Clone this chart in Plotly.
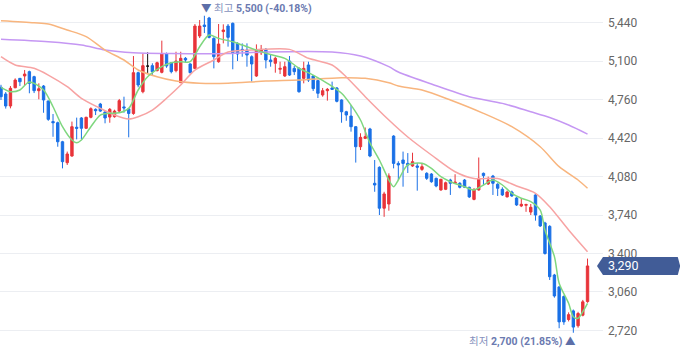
import plotly.graph_objects as go

# ---- daily candles (index = trading day in view) ----
opens = [4868,4809,4703,4864,4947,4968,5006,4962,4838,4879,4747,4565,4555,4387,4202,4261,4515,4597,4506,4603,
         4673,4720,4650,4605,4608,4658,4695,4677,4637,4997,4829,5055,5059,5015,5000,5162,5085,5015,4909,5124,
         5074,5035,5321,5418,5480,5300,5094,5360,5409,5433,5256,5203,5197,5138,4968,5173,5203,5109,5080,5027,
         4968,5100,5035,5035,4947,5065,4968,4927,4800,4838,4862,4862,4756,4652,4614,4520,4343,4417,4500,4020,
         4161,3800,3837,4437,4196,4226,4196,4173,4173,4143,4108,4102,4064,3961,3967,4049,4020,4020,4049,3985,
         3878,3961,4108,4014,4084,4012,3967,3900,3943,3890,3820,3826,3766,3917,3731,3670,3640,3210,3105,3020,
         2817,2893,2762,2855,2975]
highs = [4890,4826,4879,4947,4950,5021,5015,4970,4903,4888,4750,4632,4565,4395,4300,4565,4600,4605,4608,4691,
         4682,4730,4661,4685,4670,4765,4785,4685,5144,5006,5168,5177,5080,5094,5280,5175,5090,5182,5182,5135,
         5080,5427,5462,5500,5490,5310,5427,5424,5427,5440,5265,5256,5256,5150,5247,5242,5215,5153,5138,5094,
         5094,5144,5056,5045,5094,5094,4975,4935,4862,4862,4918,4870,4762,4660,4712,4525,4462,4513,4510,4226,
         4170,3945,4108,4445,4215,4300,4287,4290,4200,4197,4118,4110,4070,4060,4035,4060,4100,4030,4058,3990,
         3978,4248,4115,4079,4094,4020,3985,3955,3955,3898,3890,3840,3837,3925,3740,3680,3650,3220,3110,3030,
         2880,2905,2885,2990,3355]
lows = [4756,4680,4682,4860,4879,4888,4815,4817,4762,4643,4572,4431,4343,4152,4182,4255,4408,4410,4500,4594,
        4623,4650,4550,4555,4600,4650,4643,4426,4625,4868,4815,4991,4976,5009,4991,5040,4991,5000,4905,5091,
        4991,5030,5303,5347,5300,5035,5085,5256,5227,5027,5100,5138,5050,4918,4960,5153,5035,5050,4997,4985,
        4960,4968,4976,4820,4903,4915,4835,4773,4785,4750,4845,4735,4555,4572,4476,4203,4314,4410,4250,3945,
        3740,3724,3778,4152,4049,3990,4111,4165,3955,4130,4050,4025,3985,3955,3960,3917,4015,3975,3978,3890,
        3870,3955,4005,4005,3917,3908,3908,3895,3900,3820,3810,3768,3740,3690,3635,3390,3166,3010,2740,2770,
        2800,2700,2745,2845,2965]
closes = [4785,4703,4859,4932,4917,4985,4903,4838,4855,4756,4585,4555,4387,4211,4279,4520,4506,4506,4603,4679,
          4661,4658,4597,4673,4658,4750,4686,4637,4997,4888,5059,5055,5006,5085,5162,5056,5006,5100,5124,5109,
          4997,5409,5409,5405,5309,5138,5250,5374,5309,5173,5162,5191,5153,5074,5197,5203,5109,5094,5124,5035,
          5050,4976,5006,4829,5035,4932,4856,4815,4838,4850,4850,4744,4652,4623,4520,4343,4426,4432,4261,4005,
          3800,3926,4084,4196,4182,4196,4182,4211,4162,4167,4064,4034,3996,4055,4025,4020,4030,3985,3985,3900,
          3961,4064,4088,4049,4020,3976,3917,3943,3908,3829,3835,3832,3808,3740,3643,3400,3195,3025,2796,2796,
          2860,2750,2870,2973,3290]

# ---- moving-average lines (day index, price) ----
ma5_idx = [0,2,4,6,9,11,13,15,16,17,19,21,23,25,27,29,31,34,36,38,40,42,44,46,49,51,56,60,63,66,69,72,74,76,78,80,
           82,83,84,86,89,91,93,95,98,100,102,104,106,108,110,112,114,115,117,118,120,121,122,123,124]
ma5_val = [4868,4829,4844,4915,4844,4696,4520,4402,4378,4402,4520,4623,4638,4643,4682,4844,4961,5050,5085,5094,5094,
           5226,5330,5300,5270,5241,5168,5124,5036,4976,4903,4815,4711,4579,4376,4226,4049,3990,4049,4182,4197,4152,
           4078,4034,3990,3961,4005,4049,4005,3932,3888,3858,3784,3608,3372,3137,2960,2842,2828,2886,2960]
ma20_idx = [0,3,7,10,14,17,21,24,27,29,32,35,38,41,45,48,53,61,65,70,73,77,82,86,91,96,100,105,109,113,116,120,124]
ma20_val = [5138,5065,5036,4976,4873,4771,4682,4623,4588,4608,4667,4771,4888,5020,5109,5180,5197,5203,5124,5065,
            4959,4785,4579,4429,4270,4122,4062,4062,3996,3932,3813,3608,3416]
ma60_idx = [0,7,10,14,18,22,26,29,33,37,42,48,56,63,72,77,82,84,89,95,102,108,114,118,122,124]
ma60_val = [5456,5438,5427,5374,5315,5197,5109,5021,4961,4923,4903,4903,4923,4932,4953,4947,4908,4879,4844,4756,
            4638,4520,4343,4167,4049,3976]
ma120_idx = [0,10,17,22,28,36,48,56,70,76,82,84,91,99,106,112,116,120,124]
ma120_val = [5292,5270,5241,5197,5173,5166,5166,5180,5180,5144,5050,5003,4897,4785,4726,4652,4601,4535,4455]

ytick_vals = [2720,3060,3400,3740,4080,4420,4760,5100,5440]
high_idx, high_val, high_txt = 43, 5500, "5,500 (-40.18%)"
low_idx, low_val, low_txt = 121, 2700, "2,700 (21.85%)"
last_close = closes[-1]

days = list(range(len(closes)))

RED = "#e8343a"
BLUE = "#1a70e6"

fig = go.Figure()
for idx, val, col in [(ma120_idx, ma120_val, "#c597f3"),
                      (ma60_idx, ma60_val, "#f8b57e"),
                      (ma20_idx, ma20_val, "#f7a3a3"),
                      (ma5_idx, ma5_val, "#7fd77f")]:
    fig.add_trace(go.Scatter(x=idx, y=val, mode="lines",
                             line=dict(color=col, width=1.5, shape="spline", smoothing=0.8),
                             hoverinfo="skip", showlegend=False))

# regular candles and flat (open == close) candles drawn in black
reg = [i for i in days if opens[i] != closes[i]]
flat = [i for i in days if opens[i] == closes[i]]
fig.add_trace(go.Candlestick(
    x=reg, open=[opens[i] for i in reg], high=[highs[i] for i in reg],
    low=[lows[i] for i in reg], close=[closes[i] for i in reg],
    increasing=dict(line=dict(color=RED, width=1), fillcolor=RED),
    decreasing=dict(line=dict(color=BLUE, width=1), fillcolor=BLUE),
    whiskerwidth=0, showlegend=False))
if flat:
    fig.add_trace(go.Candlestick(
        x=flat, open=[opens[i] for i in flat], high=[highs[i] for i in flat],
        low=[lows[i] for i in flat], close=[closes[i] for i in flat],
        increasing=dict(line=dict(color="#111111", width=1), fillcolor="#111111"),
        decreasing=dict(line=dict(color="#111111", width=1), fillcolor="#111111"),
        whiskerwidth=0, showlegend=False))

# last price tag on the right axis
y_top = last_close + 80
y_bot = last_close - 80
fig.add_shape(type="path", xref="paper", yref="y", layer="above",
              path=(f"M 0.990 {last_close} L 1.000 {y_top} L 1.124 {y_top} "
                    f"L 1.128 {last_close} L 1.124 {y_bot} L 1.000 {y_bot} Z"),
              fillcolor="#415c97", line=dict(width=0))
fig.add_annotation(x=1.0, xref="paper", y=last_close, yref="y",
                   text=f"{last_close:,}", showarrow=False, xanchor="left", xshift=3,
                   font=dict(family="Roboto", size=12.5, color="white"))

afont = "Roboto, Noto Sans CJK KR"
fig.add_annotation(x=high_idx, y=high_val,
                   text=f"<span style='color:#5d6fa8'>▼</span> <span style='color:#8591bd'>최고</span> <b>{high_txt}</b>",
                   showarrow=False, xanchor="left", yanchor="middle", xshift=-5, yshift=7,
                   font=dict(family=afont, size=10.5, color="#6b7ab0"))
fig.add_annotation(x=low_idx, y=low_val,
                   text=f"<span style='color:#8591bd'>최저</span> <b>{low_txt}</b> <span style='color:#5d6fa8'>▲</span>",
                   showarrow=False, xanchor="right", yanchor="middle", xshift=5, yshift=-9,
                   font=dict(family=afont, size=10.5, color="#6b7ab0"))

fig.update_layout(
    width=680, height=358, margin=dict(l=0, r=77, t=0, b=0),
    paper_bgcolor="white", plot_bgcolor="white",
    boxgap=0.28,
    xaxis=dict(range=[-0.21, 127.27], visible=False, rangeslider=dict(visible=False), fixedrange=True),
    yaxis=dict(range=[2477, 5639], side="right", tickvals=ytick_vals,
               ticktext=[f"{v:,}" for v in ytick_vals], showgrid=True, gridcolor="#eceef2",
               gridwidth=1, zeroline=False, showline=False, ticks="", ticklabelstandoff=4,
               tickfont=dict(family="Roboto", size=12, color="#666666"), fixedrange=True),
    showlegend=False,
)
fig.write_html("out.html", config={"displayModeBar": False},
               post_script="document.body.style.margin='0';document.body.style.overflow='hidden';")
